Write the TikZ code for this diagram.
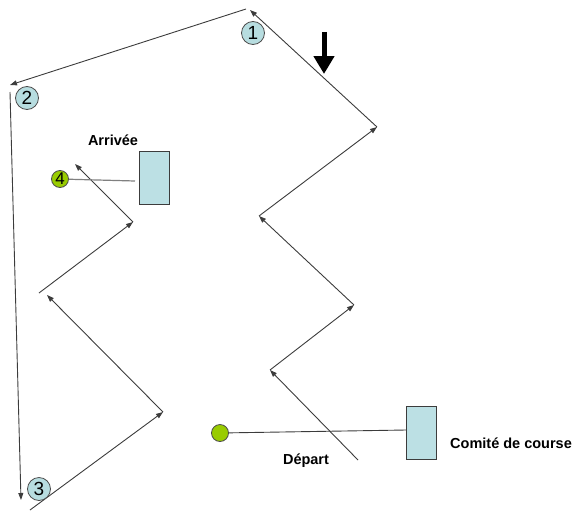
\documentclass[tikz,border=0pt]{standalone}
\usepackage{fontspec}
\setmainfont{Liberation Sans}
\usetikzlibrary{arrows.meta}
\definecolor{buoy}{RGB}{183,221,224}
\definecolor{boxfill}{RGB}{188,224,228}
\definecolor{greenb}{RGB}{153,204,0}
\definecolor{lin}{RGB}{60,60,60}
\tikzset{
  leg/.style={draw=lin, line width=0.9, -{Triangle[length=7,width=5]}},
  buoyc/.style={circle, draw=gray!60!black, line width=0.8, fill=buoy, minimum size=23, inner sep=0, font=\fontsize{19}{19}\selectfont},
  greenc/.style={circle, draw=gray!60!black, line width=0.8, fill=greenb, minimum size=17, inner sep=0, font=\fontsize{17}{17}\selectfont},
  boat/.style={draw=lin, fill=boxfill, line width=0.9, minimum width=30, minimum height=53, inner sep=0},
  lbl/.style={font=\bfseries\fontsize{14.5}{14.5}\selectfont, inner sep=0},
  link/.style={draw=gray, line width=1.2}
}
\begin{document}
\begin{tikzpicture}[x=1pt,y=-1pt]
\useasboundingbox (0,0) rectangle (577,511);
% waypoints
\coordinate (s0) at (358,460);
\coordinate (w1) at (270,370);
\coordinate (w2) at (354,305);
\coordinate (w3) at (259,216);
\coordinate (w4) at (377,127);
\coordinate (w5) at (250,10);
\coordinate (c5) at (246,9);
\coordinate (w6) at (10,85);
\coordinate (c6) at (10,92);
\coordinate (w7) at (21,500);
\coordinate (c7) at (30,510);
\coordinate (w8) at (163,412);
\coordinate (w9) at (47,295);
\coordinate (c9) at (39,293);
\coordinate (w10) at (133,222);
\coordinate (w11) at (75,164);
% course legs
\draw[leg] (s0) -- (w1);
\draw[leg] (w1) -- (w2);
\draw[leg] (w2) -- (w3);
\draw[leg] (w3) -- (w4);
\draw[leg] (w4) -- (w5);
\draw[leg] (c5) -- (w6);
\draw[leg] (c6) -- (w7);
\draw[leg] (c7) -- (w8);
\draw[leg] (w8) -- (w9);
\draw[leg] (c9) -- (w10);
\draw[leg] (w10) -- (w11);
% buoys
\node[buoyc] (b1) at (253,33) {1};
\node[buoyc] (b2) at (27,98) {2};
\node[buoyc] (b3) at (39,489) {3};
% finish
\node[boat] (arr) at (154,177.5) {};
\node[greenc] (b4) at (60,179) {4};
\draw[link] (b4) -- (135,181);
\node[lbl] (arrl) at (113,140) {Arrivée};
% start
\node[boat] (com) at (421.5,432.5) {};
\node[greenc] (st) at (220,433) {};
\draw[draw=lin, line width=0.9] (st) -- (com.west |- 0,430);
\node[lbl] (dep) at (306,461) {Départ};
\node[lbl, anchor=west] (coml) at (450,443) {Comité de course};
% wind arrow
\coordinate (wa) at (324,32);
\coordinate (wb) at (324,74);
\draw[line width=5, -{Triangle[length=18,width=20]}] (wa) -- (wb);
\end{tikzpicture}
\end{document}
